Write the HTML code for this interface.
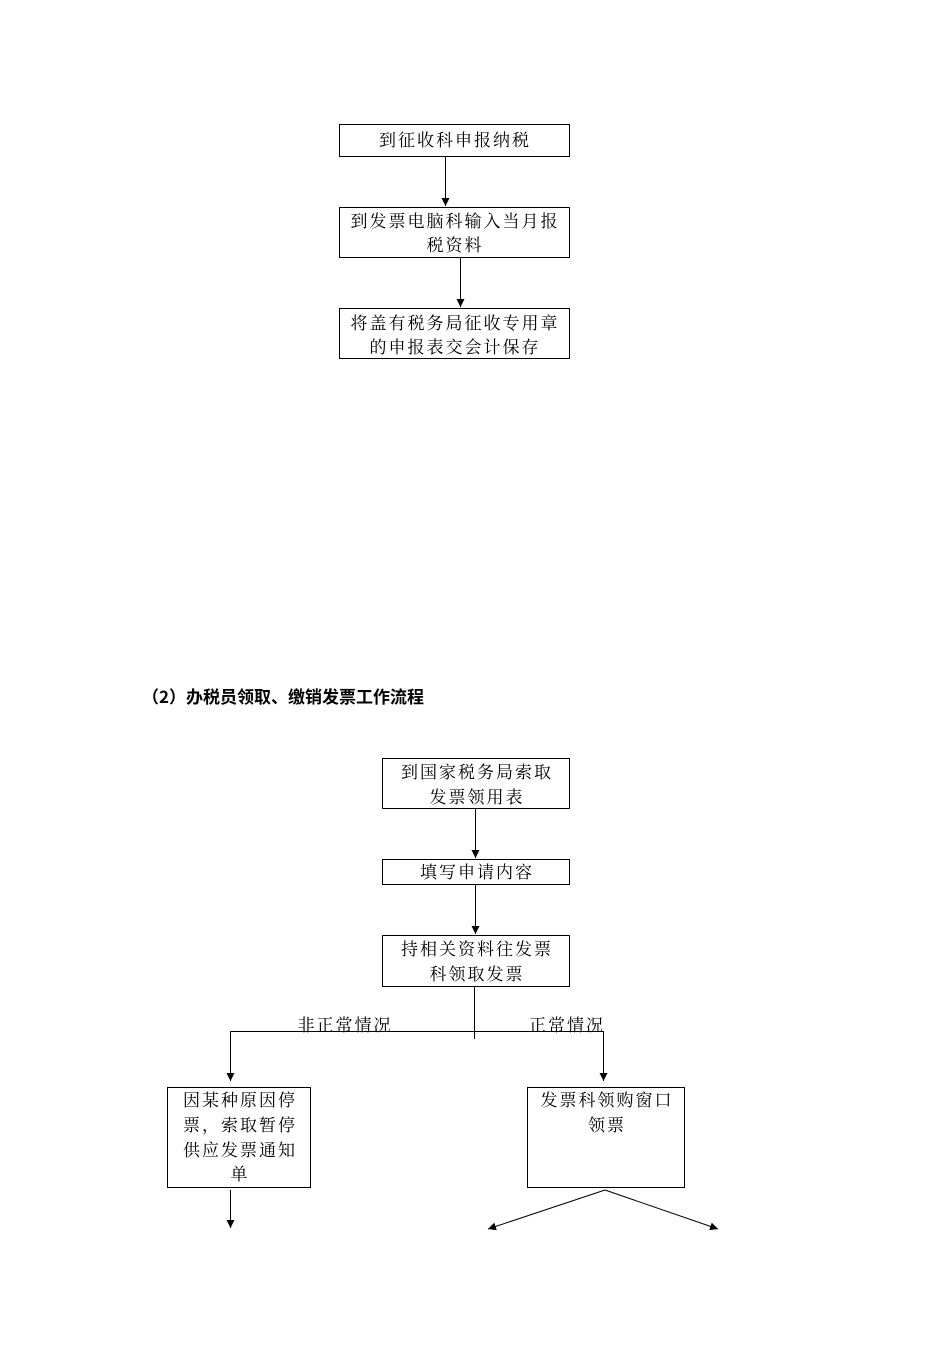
<!DOCTYPE html>
<html><head><meta charset="utf-8"><style>
body{margin:0;background:#fff}
svg text{font-family:"Noto Serif CJK SC","Liberation Serif",serif;font-size:17px;letter-spacing:2px;fill:#000}
</style></head><body>
<svg width="950" height="1344" xmlns="http://www.w3.org/2000/svg">
<defs><marker id="a" viewBox="0 0 10 10" refX="10" refY="5" markerWidth="8" markerHeight="8" orient="auto" markerUnits="userSpaceOnUse"><path d="M0,0L10,5L0,10z" fill="#000"/></marker></defs>
<g fill="none" stroke="#000" stroke-width="1">
<rect x="339.5" y="124.5" width="230" height="32"/>
<rect x="339.5" y="207.5" width="230" height="50"/>
<rect x="339.5" y="308.5" width="230" height="50"/>
<rect x="382.5" y="758.5" width="187" height="50"/>
<rect x="382.5" y="859.5" width="187" height="25"/>
<rect x="382.5" y="935.5" width="187" height="51"/>
<rect x="167.5" y="1087.5" width="143" height="100"/>
<rect x="527.5" y="1087.5" width="157" height="100"/>
<line x1="445.5" y1="156" x2="445.5" y2="206" marker-end="url(#a)"/>
<line x1="460.5" y1="257" x2="460.5" y2="307" marker-end="url(#a)"/>
<line x1="475.5" y1="808" x2="475.5" y2="858" marker-end="url(#a)"/>
<line x1="475.5" y1="884" x2="475.5" y2="934" marker-end="url(#a)"/>
<line x1="474.5" y1="986" x2="474.5" y2="1039"/>
<line x1="230.5" y1="1031.5" x2="603.5" y2="1031.5"/>
<line x1="230.5" y1="1031" x2="230.5" y2="1081" marker-end="url(#a)"/>
<line x1="603.5" y1="1031" x2="603.5" y2="1081" marker-end="url(#a)"/>
<line x1="230.5" y1="1190" x2="230.5" y2="1228" marker-end="url(#a)"/>
<line x1="605" y1="1190" x2="488" y2="1229" marker-end="url(#a)"/>
<line x1="605" y1="1190" x2="718" y2="1229" marker-end="url(#a)"/>
</g>
<g text-anchor="middle">
<text x="455" y="146">到征收科申报纳税</text>
<text x="455" y="227">到发票电脑科输入当月报</text>
<text x="455" y="251">税资料</text>
<text x="455" y="329">将盖有税务局征收专用章</text>
<text x="455" y="353">的申报表交会计保存</text>
<text x="477" y="778">到国家税务局索取</text>
<text x="477" y="803">发票领用表</text>
<text x="477" y="878">填写申请内容</text>
<text x="477" y="955">持相关资料往发票</text>
<text x="477" y="980">科领取发票</text>
<text x="345" y="1031">非正常情况</text>
<text x="567" y="1031">正常情况</text>
<text x="240" y="1106">因某种原因停</text>
<text x="240" y="1131">票，索取暂停</text>
<text x="240" y="1156">供应发票通知</text>
<text x="240" y="1180">单</text>
<text x="607" y="1106">发票科领购窗口</text>
<text x="607" y="1131">领票</text>
</g>
<text x="142" y="703" style="font-family:'Noto Sans CJK SC','Liberation Sans',sans-serif;font-weight:bold;font-size:17px;letter-spacing:0">（2）办税员领取、缴销发票工作流程</text>
</svg>
</body></html>
